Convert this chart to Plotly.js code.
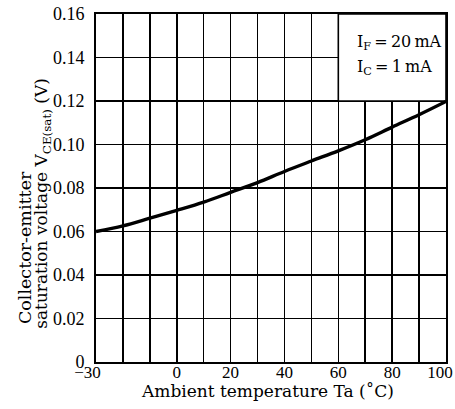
<!DOCTYPE html>
<html>
<head>
<meta charset="utf-8">
<script src="https://cdn.plot.ly/plotly-3.0.1.min.js"></script>
<style>html,body{margin:0;padding:0;background:#fff;}#chart{width:455px;height:409px;}</style>
</head>
<body>
<div id="chart"></div>
<script>
// Data
const temperature = [-30, -20, -10, 0, 10, 20, 30, 40, 50, 60, 70, 80, 90, 100];
const vceSat = [0.0600, 0.0626, 0.0661, 0.0697, 0.0735, 0.0780, 0.0825, 0.0876, 0.0924, 0.0971, 0.1022, 0.1080, 0.1137, 0.1198];
const xTickVals = [-30, -20, -10, 0, 10, 20, 30, 40, 50, 60, 70, 80, 90, 100];
const xTickText = ['\u221230\u2002\u2002', '', '', '0', '', '20', '', '40', '', '60', '', '80', '', '100\u2002\u2009'];
const yTickVals = [0, 0.02, 0.04, 0.06, 0.08, 0.10, 0.12, 0.14, 0.16];
const yTickText = ['0', '0.02', '0.04', '0.06', '0.08', '0.10', '0.12', '0.14', '0.16'];
const conditionLines = ['I<sub>F</sub>\u2009=\u200920\u2009mA', 'I<sub>C</sub>\u2009=\u20091\u2009mA'];
const xTitle = 'Ambient temperature Ta (\u02daC)';
const yTitleLines = ['Collector-emitter', 'saturation voltage V<sub>CE(sat)</sub> (V)'];

const serif = 'Liberation Serif, Times New Roman, serif';
const wideSerif = 'DejaVu Serif, serif';

const trace = {
  x: temperature, y: vceSat, type: 'scatter', mode: 'lines',
  line: {color: '#000', width: 3.4, shape: 'spline'},
  hoverinfo: 'skip'
};

const layout = {
  width: 455, height: 409,
  margin: {l: 96, r: 9, t: 14, b: 47},
  paper_bgcolor: '#fff', plot_bgcolor: '#fff',
  showlegend: false,
  font: {family: serif, color: '#000', size: 18},
  xaxis: {
    range: [-30, 100], tickmode: 'array', tickvals: xTickVals, ticktext: xTickText,
    showgrid: true, gridcolor: '#000', gridwidth: 1.6,
    showline: true, linecolor: '#000', linewidth: 2, mirror: true,
    zeroline: false, ticks: '', ticklen: 0, ticklabelstandoff: -6,
    ticklabeloverflow: 'allow',
    tickfont: {family: serif, size: 17, color: '#000'}
  },
  yaxis: {
    range: [0, 0.16], tickmode: 'array', tickvals: yTickVals, ticktext: yTickText,
    showgrid: true, gridcolor: '#000', gridwidth: 1.6,
    showline: true, linecolor: '#000', linewidth: 2, mirror: true,
    zeroline: false, ticks: '', ticklen: 0, ticklabelstandoff: 6,
    tickfont: {family: serif, size: 18, color: '#000'}
  },
  shapes: [{
    type: 'rect', xref: 'x', yref: 'y', x0: 60, x1: 100, y0: 0.12, y1: 0.16,
    fillcolor: '#fff', line: {color: '#000', width: 1.6}, layer: 'between'
  }],
  annotations: [
    {xref: 'x', yref: 'y', x: 66.3, y: 0.1467, text: conditionLines[0], showarrow: false, xanchor: 'left', yanchor: 'middle', font: {family: wideSerif, size: 16, color: '#000'}},
    {xref: 'x', yref: 'y', x: 66.3, y: 0.1352, text: conditionLines[1], showarrow: false, xanchor: 'left', yanchor: 'middle', font: {family: wideSerif, size: 16, color: '#000'}},
    {xref: 'paper', yref: 'paper', x: 0.491, y: -0.082, text: xTitle, showarrow: false, xanchor: 'center', yanchor: 'middle', font: {family: wideSerif, size: 17, color: '#000'}},
    {xref: 'paper', yref: 'paper', x: -0.203, y: 0.330, text: yTitleLines[0], textangle: -90, showarrow: false, xanchor: 'center', yanchor: 'middle', font: {family: wideSerif, size: 17.5, color: '#000'}},
    {xref: 'paper', yref: 'paper', x: -0.151, y: 0.455, text: yTitleLines[1], textangle: -90, showarrow: false, xanchor: 'center', yanchor: 'middle', font: {family: wideSerif, size: 17, color: '#000'}}
  ]
};

Plotly.newPlot('chart', [trace], layout, {staticPlot: true, displayModeBar: false});
</script>
</body>
</html>
